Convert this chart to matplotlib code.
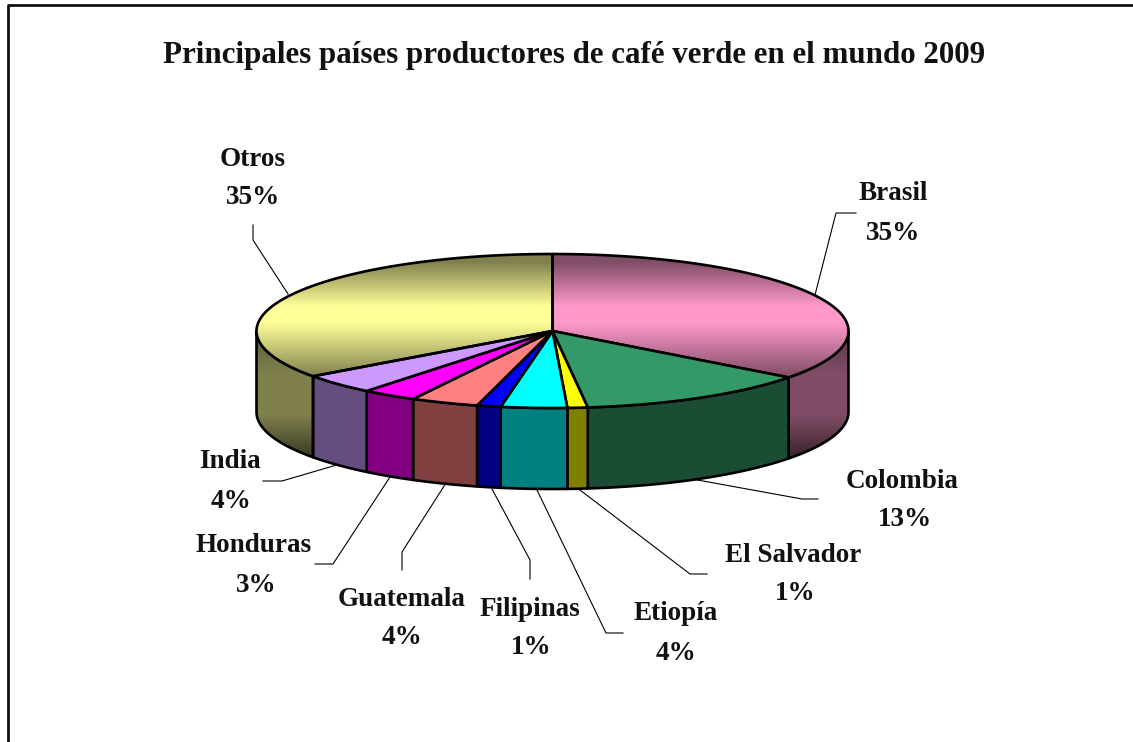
import matplotlib
matplotlib.use("Agg")
import matplotlib.pyplot as plt
import numpy as np
from matplotlib.colors import LinearSegmentedColormap
from matplotlib.patches import Polygon

paises = ["Brasil", "Colombia", "El Salvador", "Etiopía", "Filipinas",
          "Guatemala", "Honduras", "India", "Otros"]
valores = [35.3, 12.8, 1.1, 3.6, 1.3, 3.7, 3.0, 4.2, 35.0]
etiquetas = ["35%", "13%", "1%", "4%", "1%", "4%", "3%", "4%", "35%"]
titulo = "Principales países productores de café verde en el mundo 2009"

colores = ["#FF99CC", "#339966", "#FFFF00", "#00FFFF", "#0000FF",
           "#FF8080", "#FF00FF", "#CC99FF", "#FFFF99"]
colores_lado = ["#804D66", "#1A4D33", "#808000", "#008080", "#000080",
                "#804040", "#800080", "#664D80", "#80804D"]

# pie geometry in pixels
cx, cy = 552.5, 331
rx, ry = 296, 77
alto = 81

# label position: name xy, percent xy, leader line
pos_nombre = [(893, 194), (902, 481), (793, 555), (676, 614), (530, 610),
              (402, 599), (254, 545), (230, 461), (253, 160)]
pos_pct = [(893, 234), (905, 520), (795, 594), (676, 653), (531, 648),
           (402, 638), (256, 585), (231, 501), (253, 198)]
guias = [
    [(815, 295), (836, 213), (856, 213)],
    [(692, 479), (802, 499), (818, 499)],
    [(580, 490), (690, 574), (707, 574)],
    [(537, 490), (606, 633), (623, 633)],
    [(492, 489), (530, 560), (530, 579)],
    [(446, 483), (402, 552), (402, 570)],
    [(390, 477), (333, 564), (315, 564)],
    [(340, 464), (282, 481), (263, 481)],
    [(288, 294), (253, 240), (253, 225)],
]


def borde(a0, a1, dy=0.0):
    # angles in degrees, clockwise from the top of the ellipse
    t = np.radians(np.linspace(a0, a1, 200))
    return np.column_stack([cx + rx * np.sin(t), cy - ry * np.cos(t) + dy])


def oscurecer(c, f):
    return "#" + "".join("%02x" % int(int(c[j:j + 2], 16) * f) for j in (1, 3, 5))


def gradiente(ax, poly, cmap, y0, y1):
    g = np.linspace(0, 1, 256).reshape(-1, 1)
    im = ax.imshow(g, cmap=cmap, extent=(cx - rx - 2, cx + rx + 2, y1, y0),
                   aspect="auto", zorder=poly.get_zorder() - 0.5)
    im.set_clip_path(poly)


fig = plt.figure(figsize=(11.33, 7.42), dpi=100)
ax = fig.add_axes([0, 0, 1, 1])
plt.rcParams["font.family"] = ["Liberation Serif", "DejaVu Serif"]

fin = np.cumsum(valores) / np.sum(valores) * 360
ini = np.concatenate([[0], fin[:-1]])

# sides first, only the part facing the viewer
for i in range(len(valores)):
    a0, a1 = max(ini[i], 90), min(fin[i], 270)
    if a1 <= a0:
        continue
    arriba = borde(a0, a1)
    abajo = borde(a1, a0, alto)
    poly = Polygon(np.vstack([arriba, abajo]), closed=True, ec="black", lw=1.9,
                   joinstyle="round", zorder=3)
    if paises[i] in ("Brasil", "Otros"):
        poly.set_facecolor("none")
        ax.add_patch(poly)
        c = colores_lado[i]
        cmap = LinearSegmentedColormap.from_list(
            "lado", [(0, oscurecer(c, 0.7)), (0.3, c), (0.6, c), (1, oscurecer(c, 0.3))])
        gradiente(ax, poly, cmap, cy, cy + ry * 0.75 + alto)
    else:
        poly.set_facecolor(colores_lado[i])
        ax.add_patch(poly)

# top faces
for i in range(len(valores)):
    pts = np.vstack([[(cx, cy)], borde(ini[i], fin[i])])
    poly = Polygon(pts, closed=True, ec="black", lw=1.9, joinstyle="round", zorder=5)
    if paises[i] in ("Brasil", "Otros"):
        poly.set_facecolor("none")
        ax.add_patch(poly)
        cmap = LinearSegmentedColormap.from_list(
            "cara", [(0, colores_lado[i]), (0.07, colores_lado[i]), (0.43, colores[i]),
                     (0.56, colores[i]), (1, colores_lado[i])])
        gradiente(ax, poly, cmap, cy - ry, cy + ry * 0.6)
    else:
        poly.set_facecolor(colores[i])
        ax.add_patch(poly)

# leader lines and labels
for i in range(len(paises)):
    xs, ys = zip(*guias[i])
    ax.plot(xs, ys, color="black", lw=0.8, zorder=2)
    ax.text(*pos_nombre[i], paises[i], ha="center", va="center", fontsize=19.5,
            fontweight="bold", color="#111111")
    ax.text(*pos_pct[i], etiquetas[i], ha="center", va="center", fontsize=19.5,
            fontweight="bold", color="#111111")

ax.text(574, 55, titulo, ha="center", va="center", fontsize=22.3,
        fontweight="bold", color="#111111")

# chart frame runs off the picture on the right and at the bottom
ax.plot([8, 8, 1133], [742, 5, 5], color="#111111", lw=2, zorder=6)

ax.set_xlim(0, 1133)
ax.set_ylim(742, 0)
ax.axis("off")
fig.savefig("out.png", dpi=100)
